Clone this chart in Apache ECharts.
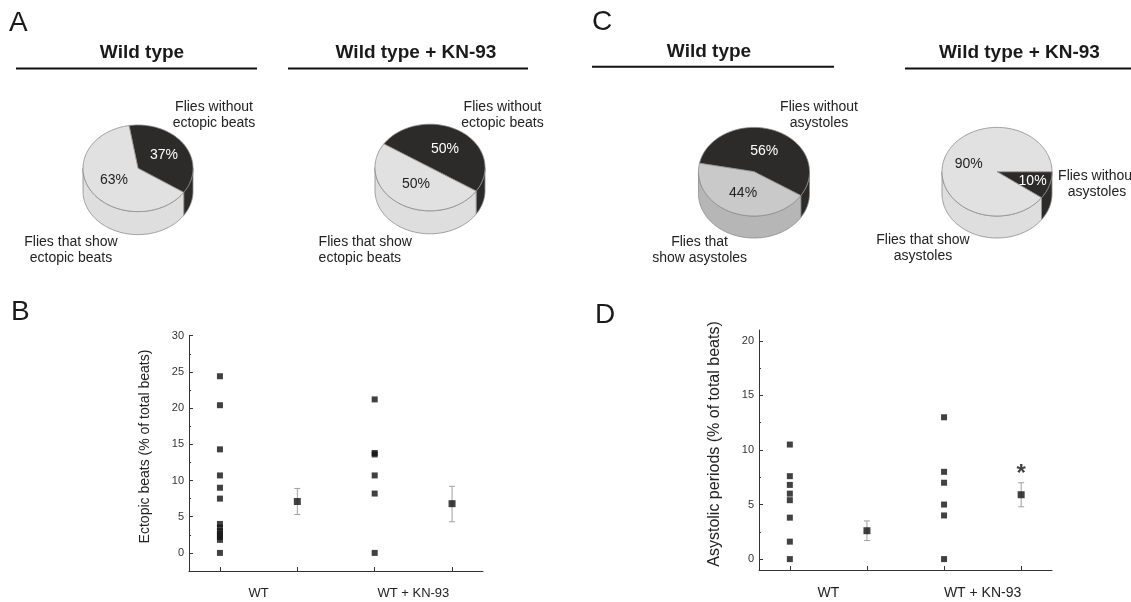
<!DOCTYPE html>
<html><head><meta charset="utf-8">
<script src="https://cdn.jsdelivr.net/npm/echarts@6/dist/echarts.min.js"></script>
<style>html,body{margin:0;padding:0;background:#fff}#c{width:1131px;height:602px}</style>
</head><body><div id="c"></div>
<script>
// ---------------- DATA ----------------
// pie slices: [flies without, flies that show]
const pieA_WT = [37, 63];
const pieA_KN = [50, 50];
const pieC_WT = [56, 44];
const pieC_KN = [10, 90];

const groupCategories = ['WT', 'WT + KN-93'];
// Panel B: ectopic beats (% of total beats)
const ectopicWT = [24.4, 20.4, 14.3, 10.7, 9.0, 7.5, 4.0, 3.5, 3.0, 2.6, 2.2, 1.8, 0];
const ectopicKN = [21.2, 13.8, 13.6, 10.7, 8.2, 0];
const ectopicMean = [7.1, 6.8];
const ectopicErrLow = [5.3, 4.3];
const ectopicErrHigh = [8.9, 9.2];
// Panel D: asystolic periods (% of total beats)
const asysWT = [10.5, 7.6, 6.8, 6.0, 5.4, 3.8, 1.6, 0];
const asysKN = [13.0, 8.0, 7.0, 5.0, 4.0, 0];
const asysMean = [2.6, 5.9];
const asysErrLow = [1.7, 4.8];
const asysErrHigh = [3.5, 7.0];
const asysSignificance = ['', '*'];

const xTickValues = [1, 2, 3, 4];
const ectopicTicks = [0, 5, 10, 15, 20, 25, 30];
const ectopicMinorTicks = [-2.5, 2.5, 7.5, 12.5, 17.5, 22.5, 27.5];
const asysTicks = [0, 5, 10, 15, 20];
const asysMinorTicks = [2.5, 7.5, 12.5, 17.5];

// ---------------- LAYOUT / STYLE ----------------
const FONT = '"Liberation Sans", Arial, Helvetica, sans-serif';
const DARK = '#2d2a2a';
const OUTLINE = '#8a8a8a';

const pies = [
  {values: pieA_WT, cx: 138, cy: 168.3, rx: 55, ry: 43.3, depth: 23, start: 99.4, light: '#e1e1e1', lightSide: '#dedede', labelR: [0.56, 0.52]},
  {values: pieA_KN, cx: 430, cy: 167.5, rx: 55, ry: 43.3, depth: 23, start: 147, light: '#e1e1e1', lightSide: '#dedede', labelR: [0.5, 0.47]},
  {values: pieC_WT, cx: 754, cy: 171.7, rx: 55.5, ry: 44.3, depth: 22, start: 169, light: '#c9c9c9', lightSide: '#b6b6b6', labelR: [0.5, 0.53]},
  {values: pieC_KN, cx: 997, cy: 171.7, rx: 55, ry: 44.3, depth: 22, start: 0, light: '#e1e1e1', lightSide: '#dedede', labelR: [0.68, 0.54]}
];

function makePieRender(p) {
  const total = p.values.reduce((a, b) => a + b, 0);
  return function (params, api) {
    const idx = params.dataIndex;
    let start = p.start;
    for (let j = 0; j < idx; j++) start -= p.values[j] / total * 360;
    const sweep = api.value(2) / total * 360;
    const end = start - sweep;
    const rad = d => d * Math.PI / 180;
    const pt = (d, r) => api.coord([(r == null ? 1 : r) * Math.cos(rad(d)), (r == null ? 1 : r) * Math.sin(rad(d))]);
    const arc = (a, b) => {
      const n = Math.max(2, Math.ceil(Math.abs(a - b) / 1.5));
      const out = [];
      for (let k = 0; k <= n; k++) out.push(pt(a + (b - a) * k / n));
      return out;
    };
    const isDark = idx === 0;
    const topFill = isDark ? DARK : p.light;
    const sideFill = isDark ? DARK : p.lightSide;
    const c = api.coord([0, 0]);
    const children = [];
    children.push({type: 'polygon', z2: 2, shape: {points: [c].concat(arc(start, end))},
      style: {fill: topFill, stroke: OUTLINE, lineWidth: 0.8}});
    for (let k = -2; k <= 1; k++) {
      const lo = k * 360 - 180, hi = k * 360;
      const a = Math.min(start, hi), b = Math.max(end, lo);
      if (a > b + 0.01) {
        const upper = arc(a, b);
        const lower = upper.slice().reverse().map(q => [q[0], q[1] + p.depth]);
        children.push({type: 'polygon', z2: 1, shape: {points: upper.concat(lower)},
          style: {fill: sideFill, stroke: OUTLINE, lineWidth: 0.8}});
      }
    }
    const mid = (start + end) / 2;
    const lp = pt(mid, p.labelR[idx]);
    children.push({type: 'text', z2: 3, x: lp[0], y: lp[1],
      style: {text: api.value(2) + '%', fill: isDark ? '#ffffff' : '#222222', font: '14px ' + FONT,
        align: 'center', verticalAlign: 'middle', textAlign: 'center', textVerticalAlign: 'middle'}});
    return {type: 'group', children};
  };
}

const grids = [], xAxes = [], yAxes = [], series = [];
pies.forEach((p, i) => {
  grids.push({left: p.cx - p.rx, top: p.cy - p.ry, width: 2 * p.rx, height: 2 * p.ry, outerBoundsMode: 'none', containLabel: false});
  xAxes.push({type: 'value', gridIndex: i, min: -1, max: 1, show: false});
  yAxes.push({type: 'value', gridIndex: i, min: -1, max: 1, show: false});
  series.push({type: 'custom', coordinateSystem: 'cartesian2d', xAxisIndex: i, yAxisIndex: i, clip: false, silent: true,
    data: p.values.map(v => [0, 0, v]), renderItem: makePieRender(p)});
});

function scatterPanel(cfg) {
  const gi = grids.length;
  grids.push({left: cfg.left, top: cfg.top, width: cfg.width, height: cfg.height, outerBoundsMode: 'none', containLabel: false});
  const axisLineStyle = {color: '#333', width: 1};
  xAxes.push({type: 'value', gridIndex: gi, min: 0.6, max: 4.4,
    axisLine: {show: true, onZero: false, lineStyle: axisLineStyle},
    axisTick: {show: true, inside: true, length: 4, customValues: xTickValues, lineStyle: axisLineStyle},
    axisLabel: {show: true, customValues: groupCategories.map((c, i) => 2 * i + 1.5),
      formatter: v => groupCategories[Math.round((v - 1.5) / 2)], margin: 16,
      fontSize: cfg.xFont, color: '#222', fontFamily: FONT},
    splitLine: {show: false}});
  const yMajor = yAxes.length;
  yAxes.push({type: 'value', gridIndex: gi, min: cfg.min, max: cfg.max, position: 'left',
    axisLine: {show: true, onZero: false, lineStyle: axisLineStyle},
    axisTick: {show: true, inside: true, length: 4, customValues: cfg.ticks, lineStyle: axisLineStyle},
    axisLabel: {show: true, customValues: cfg.ticks, margin: 5, fontSize: 11, color: '#333', fontFamily: FONT},
    splitLine: {show: false}});
  yAxes.push({type: 'value', gridIndex: gi, min: cfg.min, max: cfg.max, position: 'left', offset: 0,
    axisLine: {show: false, onZero: false},
    axisTick: {show: true, inside: true, length: 2, customValues: cfg.minorTicks, lineStyle: axisLineStyle},
    axisLabel: {show: false}, splitLine: {show: false}});
  const common = {xAxisIndex: gi, yAxisIndex: yMajor, silent: true};
  series.push(Object.assign({type: 'scatter', symbol: 'rect', symbolSize: 6, itemStyle: {color: '#111'}, z: 3,
    data: cfg.raw[0].map(v => [1, v])}, common));
  series.push(Object.assign({type: 'scatter', symbol: 'rect', symbolSize: 6, itemStyle: {color: '#111'}, z: 3,
    data: cfg.raw[1].map(v => [3, v])}, common));
  series.push(Object.assign({type: 'custom', z: 2, encode: {x: 0, y: [1, 2]},
    data: cfg.mean.map((m, i) => [2 * i + 2, cfg.low[i], cfg.high[i]]),
    renderItem: (params, api) => {
      const x = api.value(0);
      const lo = api.coord([x, api.value(1)]);
      const hi = api.coord([x, api.value(2)]);
      const w = 3;
      const st = {stroke: '#a0a0a0', lineWidth: 1};
      return {type: 'group', children: [
        {type: 'line', shape: {x1: lo[0], y1: lo[1], x2: hi[0], y2: hi[1]}, style: st},
        {type: 'line', shape: {x1: lo[0] - w, y1: lo[1], x2: lo[0] + w, y2: lo[1]}, style: st},
        {type: 'line', shape: {x1: hi[0] - w, y1: hi[1], x2: hi[0] + w, y2: hi[1]}, style: st}
      ]};
    }}, common));
  series.push(Object.assign({type: 'scatter', symbol: 'rect', symbolSize: 7, itemStyle: {color: '#111'}, z: 4,
    data: cfg.mean.map((m, i) => [2 * i + 2, m])}, common));
  if (cfg.sig) {
    series.push(Object.assign({type: 'scatter', symbolSize: 0, z: 5,
      data: cfg.sig.map((s, i) => ({value: [2 * i + 2, cfg.high[i]], label: {show: s !== '', formatter: s}})),
      label: {position: 'top', distance: -4, fontSize: 24, fontWeight: 'bold', color: '#111', fontFamily: FONT}}, common));
  }
}

scatterPanel({left: 189, top: 335.7, width: 294, height: 235.3, min: -2.5, max: 30,
  ticks: ectopicTicks, minorTicks: ectopicMinorTicks, xFont: 13,
  raw: [ectopicWT, ectopicKN], mean: ectopicMean, low: ectopicErrLow, high: ectopicErrHigh});
scatterPanel({left: 759, top: 330, width: 293, height: 240, min: -1, max: 21,
  ticks: asysTicks, minorTicks: asysMinorTicks, xFont: 14,
  raw: [asysWT, asysKN], mean: asysMean, low: asysErrLow, high: asysErrHigh, sig: asysSignificance});

// ---------------- TEXT / DECORATION ----------------
function txt(text, x, y, size, opts) {
  opts = opts || {};
  const align = opts.align || 'center';
  return {type: 'text', x: x, y: y, rotation: opts.rotation || 0, silent: true,
    style: {text: text, font: (opts.weight || 'normal') + ' ' + size + 'px ' + FONT, fill: opts.color || '#1a1a1a',
      align: align, verticalAlign: 'middle', textAlign: align, textVerticalAlign: 'middle', lineHeight: opts.lh || size}};
}
function hline(x1, x2, y) {
  return {type: 'line', silent: true, shape: {x1: x1, y1: y, x2: x2, y2: y}, style: {stroke: '#111', lineWidth: 2}};
}
const graphics = [
  txt('A', 9, 23, 28, {align: 'left'}),
  txt('B', 11, 312, 28, {align: 'left'}),
  txt('C', 592, 22, 28, {align: 'left'}),
  txt('D', 595, 315, 28, {align: 'left'}),
  txt('Wild type', 142, 53, 19, {weight: 'bold'}),
  txt('Wild type + KN-93', 416, 53, 19, {weight: 'bold'}),
  txt('Wild type', 709, 51.5, 19, {weight: 'bold'}),
  txt('Wild type + KN-93', 1019.5, 53, 19, {weight: 'bold'}),
  hline(16, 257, 68.5), hline(288, 528, 68.5), hline(592, 834, 66.7), hline(905, 1131, 68.5),
  txt('Flies without\nectopic beats', 214, 115, 14, {lh: 16, color: '#222'}),
  txt('Flies that show\nectopic beats', 71, 250, 14, {lh: 16, color: '#222'}),
  txt('Flies without\nectopic beats', 502.5, 115, 14, {lh: 16, color: '#222'}),
  txt('Flies that show\nectopic beats', 318.6, 250, 14, {lh: 16, color: '#222', align: 'left'}),
  txt('Flies without\nasystoles', 819, 115, 14, {lh: 16, color: '#222'}),
  txt('Flies that\nshow asystoles', 699.6, 250, 14, {lh: 16, color: '#222'}),
  txt('Flies without\nasystoles', 1097, 184.3, 14, {lh: 16, color: '#222'}),
  txt('Flies that show\nasystoles', 923, 248.3, 14, {lh: 16, color: '#222'}),
  txt('Ectopic beats (% of total beats)', 145, 446.5, 14, {rotation: Math.PI / 2, color: '#222'}),
  txt('Asystolic periods (% of total beats)', 715, 444, 16, {rotation: Math.PI / 2, color: '#222'})
];

const chart = echarts.init(document.getElementById('c'), null, {renderer: 'canvas'});
chart.setOption({
  animation: false,
  backgroundColor: '#ffffff',
  grid: grids,
  xAxis: xAxes,
  yAxis: yAxes,
  series: series,
  graphic: {elements: graphics}
});
</script>
</body></html>
